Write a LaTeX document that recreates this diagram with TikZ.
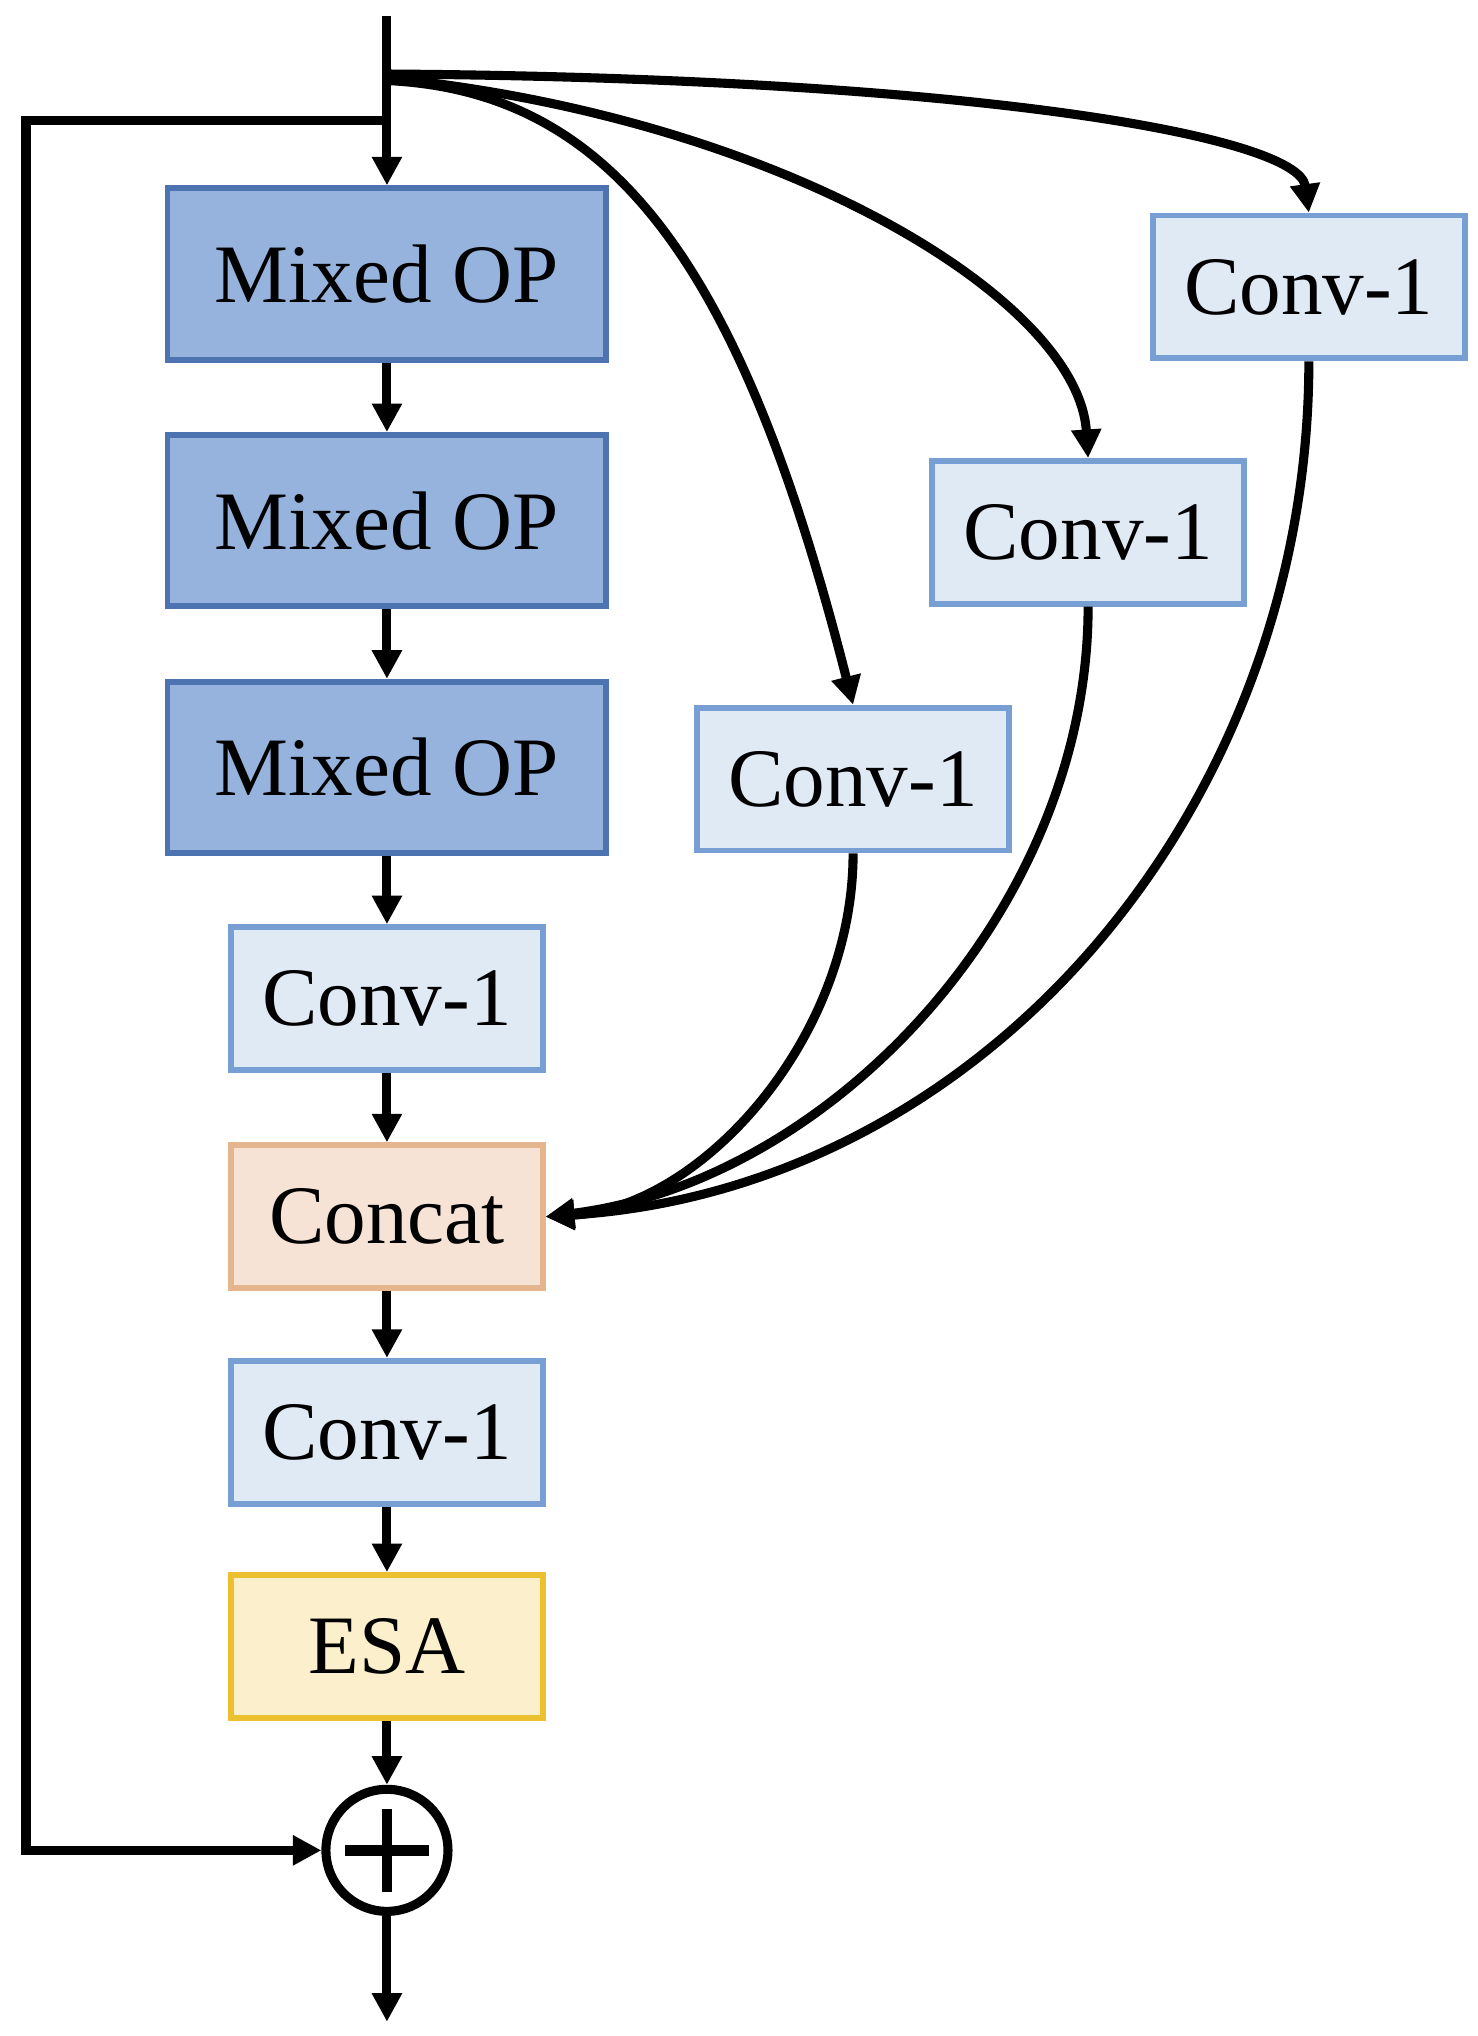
\documentclass[tikz,border=0pt]{standalone}
\usepackage{fontspec}
\setmainfont{Liberation Serif}
\usetikzlibrary{arrows.meta}
\definecolor{mixfill}{HTML}{95B3DD}
\definecolor{mixdraw}{HTML}{4D73B1}
\definecolor{convfill}{HTML}{DFEAF5}
\definecolor{convdraw}{HTML}{779FD4}
\definecolor{catfill}{HTML}{F6E3D6}
\definecolor{catdraw}{HTML}{E5B58E}
\definecolor{esafill}{HTML}{FBF0CB}
\definecolor{esadraw}{HTML}{EDC030}
\tikzset{
  box/.style={rectangle, line width=4.5pt, inner sep=0pt, font=\fontsize{64}{72}\selectfont},
  mixbox/.style={box, fill=mixfill, draw=mixdraw, minimum width=338pt, minimum height=132pt},
  convbox/.style={box, fill=convfill, draw=convdraw, minimum width=240pt, minimum height=110pt},
  catbox/.style={box, fill=catfill, draw=catdraw, minimum width=240pt, minimum height=110pt},
  esabox/.style={box, fill=esafill, draw=esadraw, minimum width=240pt, minimum height=110pt},
  conn/.style={line width=7pt, -{Triangle[length=22pt,width=22pt]}},
  plain/.style={line width=7pt}
}
\begin{document}
\begin{tikzpicture}[x=1pt,y=-1pt]
\useasboundingbox (0,0) rectangle (1138,1568);
% left column
\node[mixbox] (m1) at (298,211) {Mixed OP};
\node[mixbox] (m2) at (298,401) {Mixed OP};
\node[mixbox] (m3) at (298,591) {Mixed OP};
\node[convbox] (c1) at (298,769) {Conv-1};
\node[catbox] (cat) at (298,937) {Concat};
\node[convbox] (c2) at (298,1103) {Conv-1};
\node[esabox] (esa) at (298,1268) {ESA};
\node[circle, draw, line width=7pt, minimum size=94pt, inner sep=0pt] (sum) at (298,1425) {};
% right column
\node[convbox] (ra) at (657,600) {Conv-1};
\node[convbox] (rb) at (838,410) {Conv-1};
\node[convbox] (rc) at (1008,221) {Conv-1};
% coordinates
\coordinate (top) at (298,12);
\coordinate (sa) at (298,62);
\coordinate (sb) at (298,60);
\coordinate (sc) at (298,57);
\coordinate (skip) at (298,93);
\coordinate (skl) at (20,93);
\coordinate (skb) at (20,1425);
\coordinate (out) at (298,1557);
% plus sign
\draw[line width=8pt] ([xshift=-32pt]sum.center) -- ([xshift=32pt]sum.center);
\draw[line width=8pt] ([yshift=-32pt]sum.center) -- ([yshift=32pt]sum.center);
% main chain
\draw[conn] (top) -- (m1.north);
\draw[conn] (m1) -- (m2);
\draw[conn] (m2) -- (m3);
\draw[conn] (m3) -- (c1);
\draw[conn] (c1) -- (cat);
\draw[conn] (cat) -- (c2);
\draw[conn] (c2) -- (esa);
\draw[conn] (esa) -- (sum);
\draw[conn] (sum) -- (out);
% skip connection
\draw[conn, line join=miter] (skip) -- (skl) -- (skb) -- (sum.west);
% branches
\draw[conn] (sc) .. controls (750,60) and (1000,105) .. (rc.north);
\draw[conn] (sb) .. controls (600,90) and (830,230) .. (rb.north);
\draw[conn] (sa) .. controls (470,70) and (570,200) .. (ra.north);
% merges into concat
\draw[conn] (ra.south) .. controls (657,800) and (540,930) .. (cat.east);
\draw[conn] (rb.south) .. controls (838,700) and (640,910) .. (cat.east);
\draw[conn] (rc.south) .. controls (1008,620) and (760,915) .. (cat.east);
\end{tikzpicture}
\end{document}
